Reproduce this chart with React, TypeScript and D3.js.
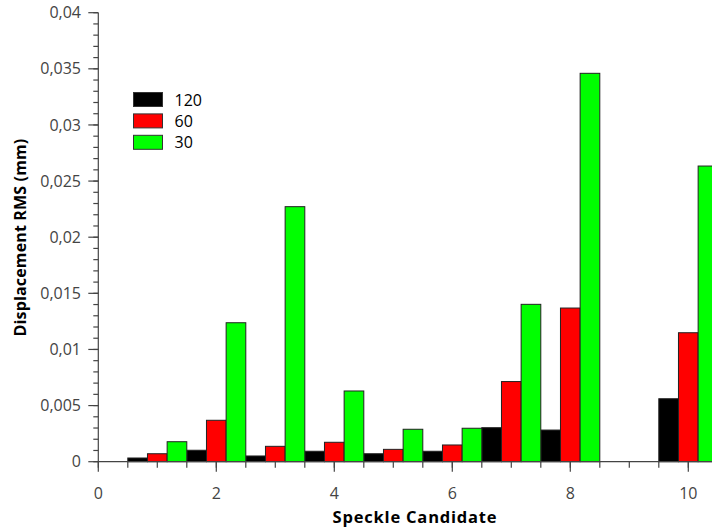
import React from "react";
import * as d3 from "d3";

const candidates = [1, 2, 3, 4, 5, 6, 7, 8, 9, 10];
const series120 = [0.00033, 0.00102, 0.00051, 0.00093, 0.00071, 0.00093, 0.00303, 0.00282, 0, 0.00561];
const series60 = [0.00071, 0.00369, 0.00137, 0.00173, 0.0011, 0.00149, 0.00714, 0.01369, 0, 0.01149];
const series30 = [0.00178, 0.01238, 0.02272, 0.0063, 0.00289, 0.00298, 0.01402, 0.0346, 0, 0.02634];
const seriesNames = ["120", "60", "30"];
const seriesColors = ["#000000", "#ff0000", "#00ff00"];
const yMajorTicks = [0, 0.005, 0.01, 0.015, 0.02, 0.025, 0.03, 0.035, 0.04];
const xMajorTicks = [0, 2, 4, 6, 8, 10];

const W = 712;
const H = 529;
const axisColor = "#444";
const font = "'Open Sans', 'Noto Sans', sans-serif";

export default function App() {
  const x = d3.scaleLinear().domain([0, 11]).range([98.3, 98.3 + 59 * 11]);
  const y = d3.scaleLinear().domain([0, 0.04]).range([461.7, 12.7]);
  const allSeries = [series120, series60, series30];
  const barW = 1 / 3;

  const yMinor = d3.range(0, 41).map((i) => i * 0.001);
  const xMinor = d3.range(0, 22).map((i) => i * 0.5).filter((v) => v <= 10.5);

  const fmt = (v: number) => (v === 0 ? "0" : String(+v.toFixed(3)).replace(".", ","));

  return (
    <svg
      width={W}
      height={H}
      style={{ position: "absolute", left: 0, top: 0, background: "#fff" }}
      fontFamily={font}
    >
      {/* bars */}
      {allSeries.map((vals, si) =>
        vals.map((v, i) => {
          if (v <= 0) return null;
          const x0 = x(candidates[i] - 0.5 + si * barW);
          const x1 = x(candidates[i] - 0.5 + (si + 1) * barW);
          return (
            <rect
              key={`${si}-${i}`}
              x={x0}
              y={y(v)}
              width={x1 - x0}
              height={y(0) - y(v)}
              fill={seriesColors[si]}
              stroke="#222"
              strokeWidth={1}
            />
          );
        })
      )}

      {/* y axis */}
      <line x1={x(0)} x2={x(0)} y1={y(0.04)} y2={y(0)} stroke={axisColor} strokeWidth={1.2} />
      {yMinor.map((v, i) => (
        <line key={`ym${i}`} x1={x(0) - 5} x2={x(0)} y1={y(v)} y2={y(v)} stroke={axisColor} strokeWidth={1.2} />
      ))}
      {yMajorTicks.map((v, i) => (
        <g key={`yM${i}`}>
          <line x1={x(0) - 10} x2={x(0)} y1={y(v)} y2={y(v)} stroke={axisColor} strokeWidth={1.2} />
          <text x={81} y={y(v)} dy="0.35em" textAnchor="end" fontSize={16} fill={axisColor}>
            {fmt(v)}
          </text>
        </g>
      ))}

      {/* x axis */}
      <line x1={x(0)} x2={W} y1={y(0)} y2={y(0)} stroke={axisColor} strokeWidth={1.2} />
      {xMinor.map((v, i) => (
        <line key={`xm${i}`} x1={x(v)} x2={x(v)} y1={y(0)} y2={y(0) + 6} stroke={axisColor} strokeWidth={1.2} />
      ))}
      {xMajorTicks.map((v, i) => (
        <g key={`xM${i}`}>
          <line x1={x(v)} x2={x(v)} y1={y(0)} y2={y(0) + 10} stroke={axisColor} strokeWidth={1.2} />
          <text x={x(v)} y={498.5} textAnchor="middle" fontSize={16} fill={axisColor}>
            {v}
          </text>
        </g>
      ))}

      {/* axis titles */}
      <text x={415} y={523} textAnchor="middle" fontSize={16.5} letterSpacing={0.8} fontWeight="bold" fill="#000">
        Speckle Candidate
      </text>
      <text
        transform={`translate(26, 237.5) rotate(-90)`}
        textAnchor="middle"
        fontSize={16}
        fontWeight="bold"
        letterSpacing={0.15}
        fill="#000"
      >
        Displacement RMS (mm)
      </text>

      {/* legend */}
      {seriesNames.map((name, i) => (
        <g key={`lg${i}`} transform={`translate(133.5, ${92.5 + i * 21.4})`}>
          <rect width={29} height={14} fill={seriesColors[i]} stroke="#333" strokeWidth={1} />
          <text x={41} y={13} fontSize={16} fill="#000">
            {name}
          </text>
        </g>
      ))}
    </svg>
  );
}
